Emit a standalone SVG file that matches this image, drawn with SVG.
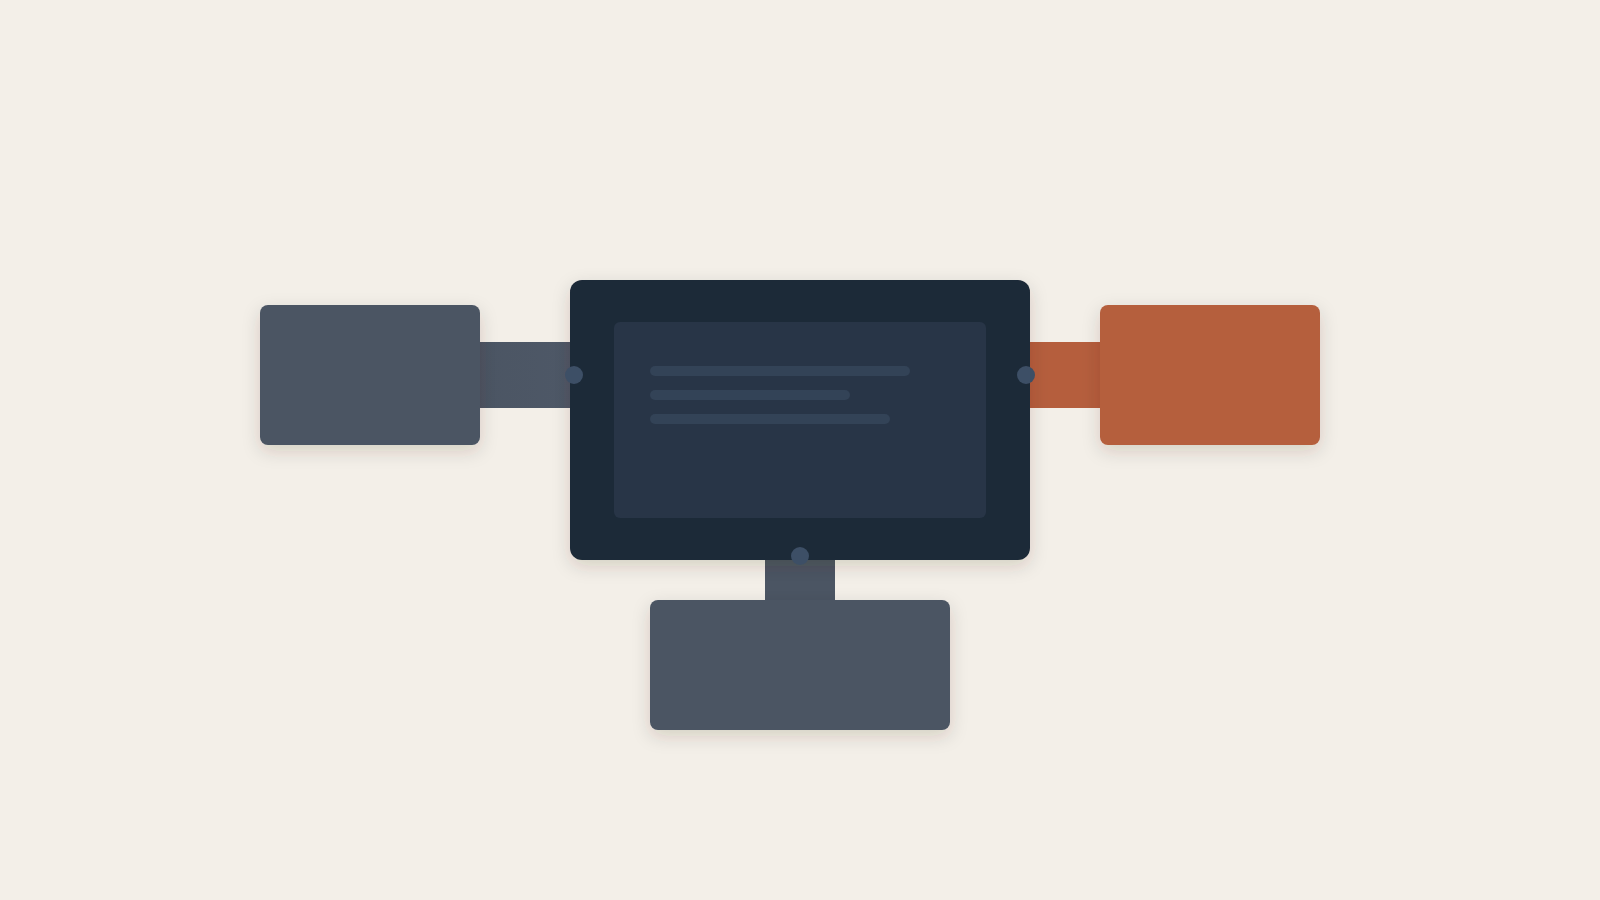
<svg xmlns="http://www.w3.org/2000/svg" width="1600" height="900" viewBox="0 0 1600 900">
  <defs>
    <filter id="shadow" x="-20%" y="-20%" width="140%" height="150%">
      <feDropShadow dx="0" dy="6" stdDeviation="9" flood-color="#3a2e1e" flood-opacity="0.16"/>
    </filter>
    <linearGradient id="gradL" x1="0" y1="0" x2="1" y2="0">
      <stop offset="0" stop-color="#4b5563"/>
      <stop offset="1" stop-color="#4e5867"/>
    </linearGradient>
  </defs>
  <style>
    .slate { fill: #4b5563; }
    .rust { fill: #b55e3d; }
    .core { fill: #1e2a38; }
    .panel { fill: #283547; }
    .bar { fill: #334357; }
    .port { fill: #3d4f66; }
  </style>
  <rect width="1600" height="900" fill="#f3efe8"/>

  <g id="connectors">
    <rect x="470" y="342" width="104" height="66" fill="url(#gradL)"/>
    <rect class="rust" x="1026" y="342" width="84" height="66"/>
    <rect class="slate" x="765" y="550" width="70" height="60"/>
  </g>

  <g id="node-left">
    <rect class="slate" x="260" y="305" width="220" height="140" rx="8" filter="url(#shadow)"/>
  </g>

  <g id="node-right">
    <rect class="rust" x="1100" y="305" width="220" height="140" rx="8" filter="url(#shadow)"/>
  </g>

  <g id="node-bottom">
    <rect class="slate" x="650" y="600" width="300" height="130" rx="8" filter="url(#shadow)"/>
  </g>

  <g id="node-center">
    <rect class="core" x="570" y="280" width="460" height="280" rx="12" filter="url(#shadow)"/>
    <rect class="panel" x="614" y="322" width="372" height="196" rx="6"/>
    <rect class="bar" x="650" y="366" width="260" height="10" rx="5"/>
    <rect class="bar" x="650" y="390" width="200" height="10" rx="5"/>
    <rect class="bar" x="650" y="414" width="240" height="10" rx="5"/>
    <circle class="port" cx="574" cy="375" r="9"/>
    <circle class="port" cx="1026" cy="375" r="9"/>
    <circle class="port" cx="800" cy="556" r="9"/>
  </g>
</svg>
